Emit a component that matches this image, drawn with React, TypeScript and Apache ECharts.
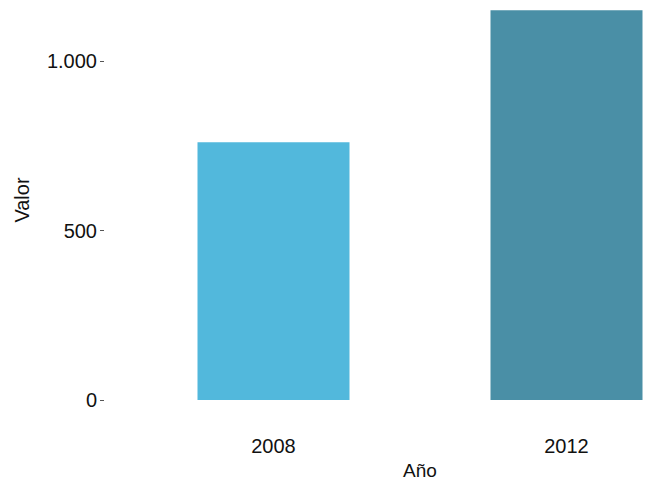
import React, { useEffect, useRef } from "react";
import * as echarts from "echarts";

const categories = ["2008", "2012"];
const values = [760, 1150];
const barColors = ["#52b8dc", "#4a8fa6"];
const yTicks = [0, 500, 1000];

export default function App() {
  const ref = useRef<HTMLDivElement>(null);
  useEffect(() => {
    const chart = echarts.init(ref.current!, null, { renderer: "svg" });
    const font = "Liberation Sans, Arial, sans-serif";
    chart.setOption({
      animation: false,
      backgroundColor: "#ffffff",
      grid: {
        left: 127,
        right: 7,
        top: 0,
        bottom: 78,
        containLabel: false,
        outerBoundsMode: "none",
      },
      xAxis: {
        type: "category",
        data: categories,
        name: "Año",
        nameLocation: "middle",
        nameGap: 45,
        nameTextStyle: { fontFamily: font, fontSize: 19, lineHeight: 19, color: "#111" },
        axisLine: { show: false },
        axisTick: { show: false },
        axisLabel: { margin: 36, fontFamily: font, fontSize: 20, color: "#111" },
      },
      yAxis: {
        type: "value",
        min: 0,
        max: 1180,
        interval: 500,
        offset: 23,
        name: "Valor",
        nameLocation: "middle",
        nameGap: 72,
        nameTextStyle: { fontFamily: font, fontSize: 20, color: "#111" },
        axisLine: { show: false },
        axisTick: { show: true, length: 4, lineStyle: { color: "#555", width: 1 } },
        splitLine: { show: false },
        axisLabel: {
          margin: 7,
          fontFamily: font,
          fontSize: 20,
          color: "#111",
          showMaxLabel: false,
          formatter: (v: number) =>
            yTicks.includes(v) ? v.toLocaleString("de-DE") : "",
        },
      },
      series: [
        {
          type: "bar",
          barWidth: 152,
          data: values.map((v, i) => ({ value: v, itemStyle: { color: barColors[i] } })),
        },
      ],
    });
    return () => chart.dispose();
  }, []);
  return (
    <div
      style={{
        position: "fixed",
        left: 0,
        top: 0,
        width: 645,
        height: 478,
        overflow: "hidden",
        background: "#fff",
      }}
    >
      <div ref={ref} style={{ width: 720, height: 478 }} />
    </div>
  );
}
